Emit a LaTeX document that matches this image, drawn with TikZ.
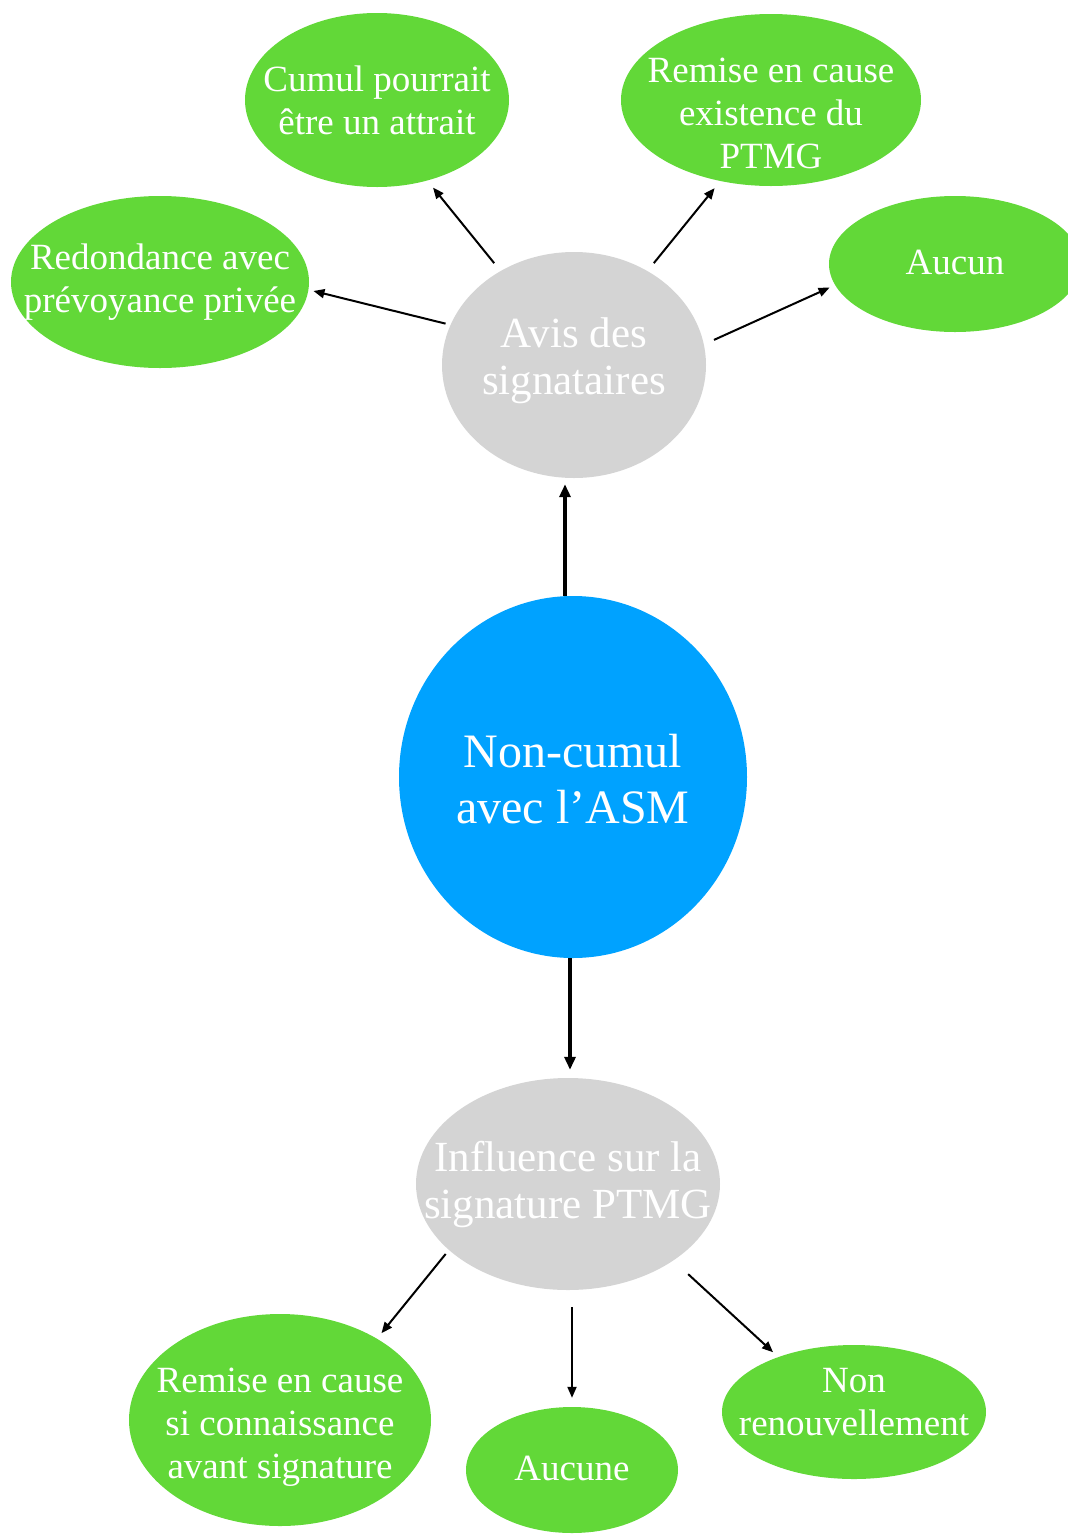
\documentclass[tikz,border=0pt]{standalone}
\usepackage{fontspec}
\setmainfont{Liberation Serif}
\usepackage{tikz}
\usetikzlibrary{positioning}
\usetikzlibrary{shapes.geometric, arrows.meta}
\definecolor{asmblue}{HTML}{00A2FF}
\definecolor{leafgreen}{HTML}{62D838}
\definecolor{themegray}{HTML}{D4D4D4}
\tikzstyle{arrow} = [line width=2pt,-{Triangle[length=11pt,width=9pt]},shorten <=5pt,shorten >=5pt]
\tikzstyle{bigarrow} = [arrow,line width=3.5pt,-{Triangle[length=13pt,width=11pt]}]
\tikzstyle{leaf} = [ellipse,fill=leafgreen,inner sep=0pt]
\tikzstyle{leaftext} = [text=white,align=center,font=\fontsize{37}{43}\selectfont]
\tikzstyle{theme} = [ellipse,fill=themegray,inner sep=0pt]
\tikzstyle{themetext} = [text=white,align=center,font=\fontsize{43}{47}\selectfont]

\begin{document}
\begin{tikzpicture}[x=1pt,y=-1pt]
	\useasboundingbox (0,0) rectangle (1068,1537);

	%Nodes
	\node [ellipse,fill=asmblue,inner sep=0pt,minimum width=348pt,minimum height=362pt,
		label={[text=white,align=center,font=\fontsize{48}{56}\selectfont,yshift=-2pt]center:Non-cumul\\avec l’ASM}] (noncumul) at (573,777) {};

	\node [theme,minimum width=264pt,minimum height=226pt,label={[themetext,yshift=4pt]center:Avis des\\signataires}] (avis) at (574,365) {};
	\node [theme,minimum width=304pt,minimum height=212pt,label={[themetext]center:Influence sur la\\signature PTMG}] (influence) at (568,1184) {};

	\node [leaf,minimum width=264pt,minimum height=174pt,label={[leaftext]center:Cumul pourrait\\être un attrait}] (cumul) at (377,100) {};
	\node [leaf,minimum width=300pt,minimum height=172pt,label={[leaftext,yshift=-13pt]center:Remise en cause\\existence du\\PTMG}] (remise) at (771,100) {};
	\node [leaf,minimum width=298pt,minimum height=172pt,label={[leaftext]center:Redondance avec\\prévoyance privée}] (redondance) at (160,282) {};
	\node [leaf,minimum width=252pt,minimum height=136pt,label={[leaftext,yshift=2pt]center:Aucun}] (aucun) at (955,264) {};

	\node [leaf,minimum width=302pt,minimum height=212pt,label={[leaftext,yshift=-7pt]center:Remise en cause\\si connaissance\\avant signature}] (remisesign) at (280,1420) {};
	\node [leaf,minimum width=212pt,minimum height=126pt,label={[leaftext,yshift=2pt]center:Aucune}] (aucune) at (572,1470) {};
	\node [leaf,minimum width=264pt,minimum height=134pt,label={[leaftext,yshift=10pt]center:Non\\renouvellement}] (nonrenouv) at (854,1412) {};

	%Lines
	\draw[bigarrow,shorten <=0pt,shorten >=6pt] ([xshift=-8pt]noncumul.north) -- ([xshift=-9pt]avis.south);
	\draw[bigarrow,shorten <=0pt,shorten >=8pt] ([xshift=-3pt]noncumul.south) -- ([xshift=2pt]influence.north);

	\draw[arrow] (avis.162) -- (redondance.-3);
	\draw[arrow,shorten <=10pt,shorten >=9pt] (avis.128) -- (cumul.-58);
	\draw[arrow,shorten <=10pt,shorten >=9pt] (avis.52) -- (remise.238);
	\draw[arrow,shorten <=11pt,shorten >=6pt] (avis.9) -- (aucun.190);

	\draw[arrow,shorten >=7pt] (influence.209) -- (remisesign.40);
	\draw[arrow,shorten <=17pt,shorten >=9pt] ([xshift=4pt]influence.south) -- (aucune.north);
	\draw[arrow,shorten <=20pt,shorten >=7pt] (influence.-36) -- (nonrenouv.144);
\end{tikzpicture}
\end{document}
